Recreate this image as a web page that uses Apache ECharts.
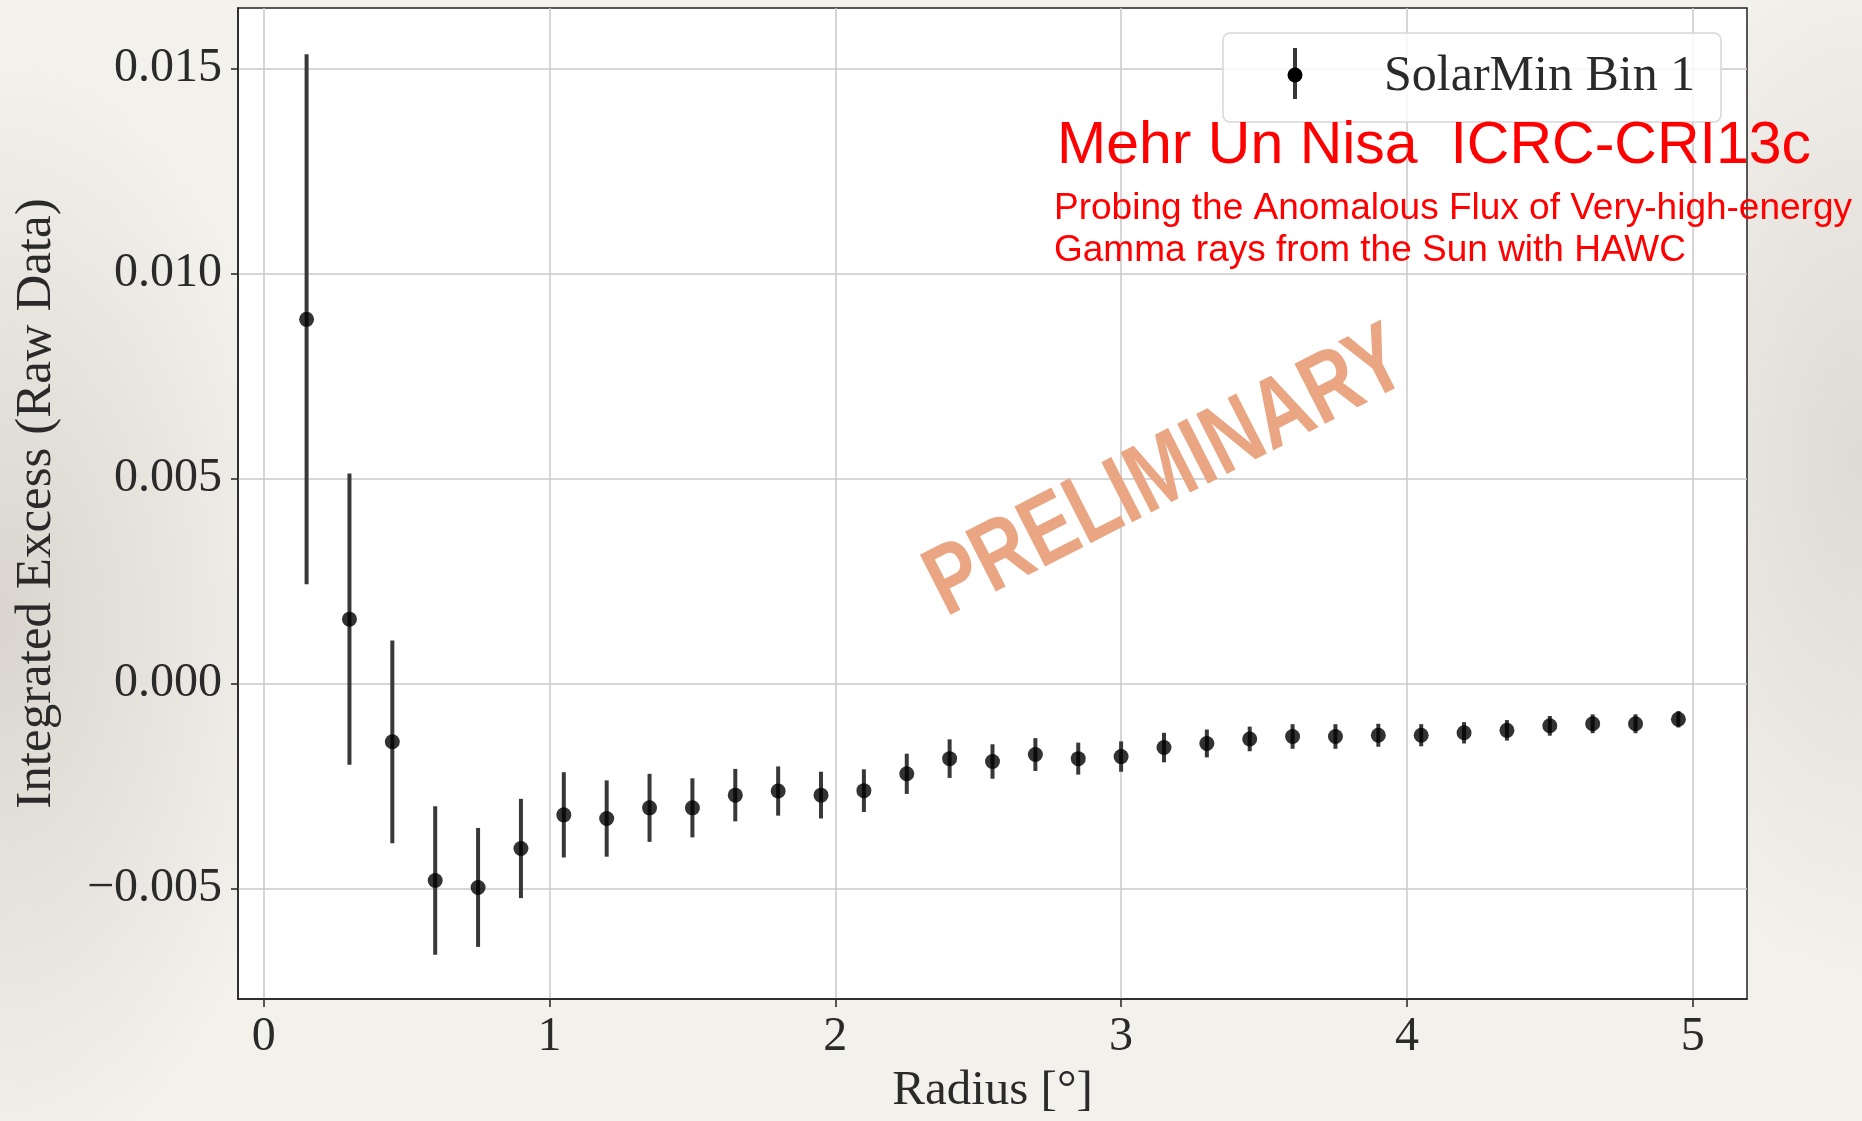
<!DOCTYPE html>
<html>
<head>
<meta charset="utf-8">
<script src="https://cdn.jsdelivr.net/npm/echarts@6/dist/echarts.min.js"></script>
<style>
html,body{margin:0;padding:0;width:1862px;height:1121px;overflow:hidden;}
body{
  background:
    radial-gradient(ellipse 300px 560px at 0px 620px, rgba(196,190,182,0.55), rgba(196,190,182,0)),
    radial-gradient(ellipse 260px 520px at 1862px 460px, rgba(196,190,182,0.45), rgba(196,190,182,0)),
    #f3f1ec;
}
#chart{width:1862px;height:1121px;}
</style>
</head>
<body>
<div id="chart"></div>
<script>
// ---- data ----
const radius = [0.15, 0.30, 0.45, 0.60, 0.75, 0.90, 1.05, 1.20, 1.35, 1.50, 1.65,
                1.80, 1.95, 2.10, 2.25, 2.40, 2.55, 2.70, 2.85, 3.00, 3.15, 3.30,
                3.45, 3.60, 3.75, 3.90, 4.05, 4.20, 4.35, 4.50, 4.65, 4.80, 4.95];
const excess = [0.00888, 0.00157, -0.00142, -0.00480, -0.00497, -0.00402, -0.00320, -0.00329,
                -0.00303, -0.00303, -0.00272, -0.00262, -0.00272, -0.00261, -0.00220, -0.00183,
                -0.00190, -0.00173, -0.00183, -0.00178, -0.00156, -0.00146, -0.00135, -0.00129,
                -0.00129, -0.00126, -0.00126, -0.00120, -0.00114, -0.00103, -0.00098, -0.00098,
                -0.00087];
const errors = [0.00646, 0.00355, 0.00247, 0.00181, 0.00145, 0.00121, 0.00104, 0.00093,
                0.00083, 0.00072, 0.00064, 0.00060, 0.00057, 0.00052, 0.00049, 0.00047,
                0.00042, 0.00040, 0.00039, 0.00037, 0.00036, 0.00034, 0.00030, 0.00030,
                0.00030, 0.00028, 0.00027, 0.00026, 0.00025, 0.00024, 0.00023, 0.00023,
                0.00020];
const xTicks = [0, 1, 2, 3, 4, 5];
const xTickLabels = ['0', '1', '2', '3', '4', '5'];
const yTicks = [-0.005, 0.000, 0.005, 0.010, 0.015];
const yTickLabels = ['\u22120.005', '0.000', '0.005', '0.010', '0.015'];
const seriesName = 'SolarMin Bin 1';
const xName = 'Radius [\u00b0]';
const yName = 'Integrated Excess (Raw Data)';
const titleText = 'Mehr Un Nisa  ICRC-CRI13c';
const subtitleLines = ['Probing the Anomalous Flux of Very-high-energy', 'Gamma rays from the Sun with HAWC'];
const watermark = 'PRELIMINARY';

// ---- chart ----
const serif = "'Liberation Serif', 'DejaVu Serif', serif";
const sans = "'Liberation Sans', Arial, sans-serif";
const chart = echarts.init(document.getElementById('chart'));

const barData = radius.map((r, i) => [r, excess[i] - errors[i], excess[i] + errors[i]]);
const pointData = radius.map((r, i) => [r, excess[i]]);

function labelFor(values, labels) {
  return function (v) {
    for (let i = 0; i < values.length; i++) {
      if (Math.abs(values[i] - v) < 1e-9) return labels[i];
    }
    return '';
  };
}

const option = {
  backgroundColor: 'transparent',
  animation: false,
  grid: {
    left: 238, right: 115, top: 8, bottom: 122,
    show: true, backgroundColor: '#ffffff', borderColor: '#222', borderWidth: 1.5
  },
  xAxis: {
    type: 'value', min: -0.09, max: 5.19,
    name: xName, nameLocation: 'middle', nameGap: 68,
    nameTextStyle: { fontFamily: serif, fontSize: 49, color: '#2a2a2a' },
    axisLine: { show: true, onZero: false, lineStyle: { color: '#222', width: 1.5 } },
    axisTick: { show: true, length: 8, inside: false, customValues: xTicks, lineStyle: { color: '#222', width: 1.5 } },
    axisLabel: { customValues: xTicks, margin: 14, fontFamily: serif, fontSize: 48, color: '#2a2a2a',
                 formatter: labelFor(xTicks, xTickLabels) },
    splitLine: { show: true, lineStyle: { color: '#c8c8c8', width: 1.5 } }
  },
  yAxis: {
    type: 'value', min: -0.00769, max: 0.01647,
    name: yName, nameLocation: 'middle', nameGap: 176, nameRotate: 90,
    nameTextStyle: { fontFamily: serif, fontSize: 51, color: '#2a2a2a' },
    axisLine: { show: true, onZero: false, lineStyle: { color: '#222', width: 1.5 } },
    axisTick: { show: true, length: 7, inside: false, customValues: yTicks, lineStyle: { color: '#222', width: 1.5 } },
    axisLabel: { customValues: yTicks, margin: 16, fontFamily: serif, fontSize: 48, color: '#2a2a2a',
                 formatter: labelFor(yTicks, yTickLabels) },
    splitLine: { show: true, lineStyle: { color: '#c8c8c8', width: 1.5 } }
  },
  series: [
    {
      type: 'custom', name: seriesName, data: barData, encode: { x: 0, y: [1, 2] }, z: 3,
      renderItem: function (params, api) {
        const x = api.value(0);
        const p1 = api.coord([x, api.value(1)]);
        const p2 = api.coord([x, api.value(2)]);
        return { type: 'line', shape: { x1: p1[0], y1: p1[1], x2: p2[0], y2: p2[1] },
                 style: { stroke: '#383838', lineWidth: 4 } };
      }
    },
    {
      type: 'scatter', name: seriesName, data: pointData, symbol: 'circle', symbolSize: 15, z: 4,
      itemStyle: { color: '#000000' }
    }
  ],
  graphic: [
    { type: 'rect', z: 10, shape: { x: 1223, y: 33, width: 498, height: 89, r: 7 },
      style: { fill: 'rgba(255,255,255,0.82)', stroke: '#d8d8d8', lineWidth: 1.5 } },
    { type: 'line', z: 11, shape: { x1: 1295, y1: 48, x2: 1295, y2: 99 },
      style: { stroke: '#383838', lineWidth: 4 } },
    { type: 'circle', z: 12, shape: { cx: 1295, cy: 75, r: 7.5 }, style: { fill: '#000' } },
    { type: 'text', z: 12, x: 1384, y: 77,
      style: { text: seriesName, font: '50px ' + serif, fill: '#2a2a2a', align: 'left', verticalAlign: 'middle' } },
    { type: 'text', z: 13, x: 1057, y: 147,
      style: { text: titleText, font: '59px ' + sans, fill: '#ff0000', align: 'left', verticalAlign: 'middle' } },
    { type: 'text', z: 13, x: 1054, y: 209,
      style: { text: subtitleLines[0], font: '37px ' + sans, fill: '#ff0000', align: 'left', verticalAlign: 'middle' } },
    { type: 'text', z: 13, x: 1054, y: 251,
      style: { text: subtitleLines[1], font: '37px ' + sans, fill: '#ff0000', align: 'left', verticalAlign: 'middle' } },
    { type: 'text', z: 9, x: 1167, y: 474, rotation: 27 * Math.PI / 180, scaleX: 0.78,
      style: { text: watermark, font: 'bold 98px ' + sans, fill: '#eaa682', align: 'center', verticalAlign: 'middle' } }
  ]
};
chart.setOption(option);
</script>
</body>
</html>
